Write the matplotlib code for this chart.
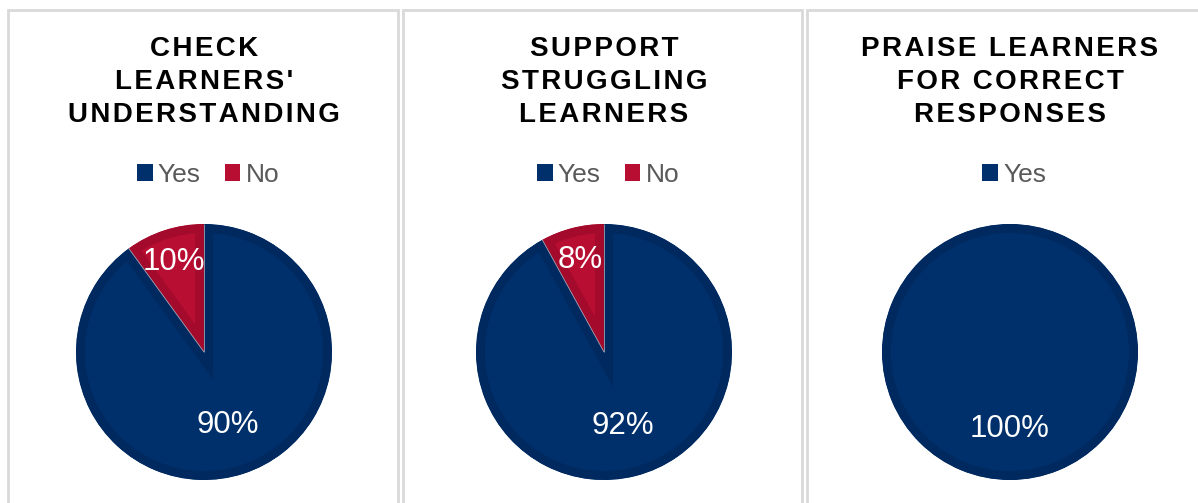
import numpy as np
import matplotlib
matplotlib.use('Agg')
from matplotlib import pyplot as plt
from matplotlib.patches import Rectangle

plt.rcParams['font.family'] = ['Liberation Sans', 'DejaVu Sans']

#~~ data
titles = ["CHECK\nLEARNERS'\nUNDERSTANDING",
          "SUPPORT\nSTRUGGLING\nLEARNERS",
          "PRAISE LEARNERS\nFOR CORRECT\nRESPONSES"]
categories = [['Yes', 'No'], ['Yes', 'No'], ['Yes']]
shares = [[90, 10], [92, 8], [100]]

#~~ colours
face_cols = {'Yes': '#00306b', 'No': '#b80e31'}
ring_cols = {'Yes': '#002960', 'No': '#a30a2c'}
legend_txt = '#595959'
border_col = '#d9d9d9'

W, H = 1198, 503
fig = plt.figure(figsize=(W / 100., H / 100.), dpi=100)

#~ panel frames (pixel edges)
panels = [(8, 398), (403, 802), (807, 1210)]
for (x0, x1) in panels:
    fig.patches.append(Rectangle((x0 / W, -0.1), (x1 - x0) / W, (H - 10) / H + 0.1,
                                 transform=fig.transFigure, fill=False,
                                 edgecolor=border_col, linewidth=2))

centers_x = [204, 604, 1010]
pie_cy = 352
radius = 128

def spaced(s):
    # Excel titles have a bit of letter spacing: use hair spaces
    return '\n'.join('\u200a'.join(line) for line in s.split('\n'))

for i in range(3):
    cx = centers_x[i]
    ax = fig.add_axes([(cx - radius) / W, (H - pie_cy - radius) / H,
                       2 * radius / W, 2 * radius / H])
    cols = [face_cols[c] for c in categories[i]]
    wedges, texts, autotexts = ax.pie(shares[i], colors=cols, startangle=90,
                                      counterclock=False, radius=1.0,
                                      autopct='%1.0f%%', pctdistance=0.6,
                                      textprops=dict(color='white', fontsize=22.5),
                                      wedgeprops=dict(linewidth=0))
    ax.set_xlim(-1.0, 1.0)
    ax.set_ylim(-1.0, 1.0)
    ax.set_aspect('equal')
    ax.axis('off')
    #~ darker bevel ring inside each wedge (stroke clipped to the wedge)
    for w, c in zip(wedges, categories[i]):
        w.set_edgecolor(ring_cols[c])
        w.set_linewidth(13)
        w.set_clip_on(True)
        w.set_clip_path(w.get_path(), w.get_transform())
    #~ thin light seam between slices
    if len(wedges) > 1:
        for w in wedges:
            a = np.deg2rad(w.theta1)
            ax.plot([0, np.cos(a)], [0, np.sin(a)], color='#9aa3b5', lw=0.6,
                    solid_capstyle='butt')
    #~ small slices get their label further out
    for w, t, s in zip(wedges, autotexts, shares[i]):
        if s < 50:
            ang = np.deg2rad((w.theta1 + w.theta2) / 2.)
            t.set_position((0.75 * np.cos(ang), 0.74 * np.sin(ang)))

    #~ title
    fig.text(cx / W, 1 - 36 / H, spaced(titles[i]), ha='center', va='top',
             fontsize=20, fontweight='bold', color='black', linespacing=1.36)

    #~ legend
    leg = ax.legend(wedges, categories[i], loc='center',
                    bbox_to_anchor=((cx + 4) / W, 1 - 175 / H),
                    bbox_transform=fig.transFigure, ncol=len(categories[i]),
                    frameon=False, fontsize=19, handlelength=0.6, handleheight=0.6,
                    handletextpad=0.2, columnspacing=0.9, labelcolor=legend_txt)
    for h in leg.legend_handles:
        h.set_linewidth(0)

plt.savefig('out.png', dpi=100)
plt.close()
